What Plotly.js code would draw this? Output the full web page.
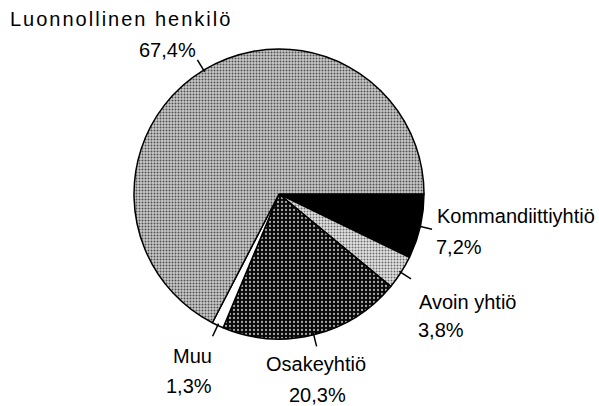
<!DOCTYPE html>
<html><head><meta charset="utf-8">
<script src="https://cdn.plot.ly/plotly-3.0.1.min.js"></script>
<style>html,body{margin:0;padding:0;background:#fff}</style>
</head><body><div id="chart" style="width:599px;height:406px"></div>
<script>
// Data (clockwise from 3 o'clock)
const categories = ['Kommandiittiyhtiö', 'Avoin yhtiö', 'Osakeyhtiö', 'Muu', 'Luonnollinen henkilö'];
const shares = [7.2, 3.8, 20.3, 1.3, 67.4];
const pctLabels = shares.map(v => v.toFixed(1).replace('.', ',') + '%');

// Layout constants (pixels)
const W = 599, H = 406;
const CX = 279, CY = 194, R = 145;
const labelPos = [
  {nx: 436, ny: 215.5, px: 435, py: 247},
  {nx: 418, ny: 302, px: 417, py: 330},
  {nx: 265, ny: 363.5, px: 288, py: 395},
  {nx: 172, ny: 356, px: 165, py: 385.5},
  {nx: 9, ny: 19, px: 138, py: 50}
];
const nameStyle = ['', '', '', '', 'letter-spacing:2px'];

const fillBg = ['#000000', '#e4e4e4', '#080808', '#ffffff', '#cacaca'];
const fillFg = ['#000000', '#6a6a6a', '#a8a8a8', '#ffffff', '#505050'];
const patShape = ['', '.', '.', '', '.'];
const patSize = [3, 3, 4, 3, 3];
const patSolid = [0.3, 0.35, 0.25, 0.3, 0.35];

const fx = x => x / W, fy = y => 1 - y / H;

const total = shares.reduce((a, b) => a + b, 0);
const shapes = [];
let cum = 0;
shares.forEach(v => {
  const mid = (cum + v / 2) / total;
  cum += v;
  const th = 2 * Math.PI * mid;
  const c = Math.cos(th), s = Math.sin(th);
  shapes.push({
    type: 'line', xref: 'paper', yref: 'paper',
    x0: fx(CX + (R - 2) * c), y0: fy(CY + (R - 2) * s),
    x1: fx(CX + (R + 12) * c), y1: fy(CY + (R + 12) * s),
    line: {color: '#000', width: 1.5}
  });
});

const font = {family: '"Liberation Sans", Arial, sans-serif', size: 20, color: '#000'};
const annotations = [];
categories.forEach((name, i) => {
  const p = labelPos[i];
  const txt = nameStyle[i] ? '<span style="' + nameStyle[i] + '">' + name + '</span>' : name;
  annotations.push({xref: 'paper', yref: 'paper', x: fx(p.nx), y: fy(p.ny), text: txt,
    showarrow: false, xanchor: 'left', yanchor: 'middle', borderpad: 0, font: font});
  annotations.push({xref: 'paper', yref: 'paper', x: fx(p.px), y: fy(p.py), text: pctLabels[i],
    showarrow: false, xanchor: 'left', yanchor: 'middle', borderpad: 0, font: font});
});

const trace = {
  type: 'pie',
  labels: categories,
  values: shares,
  sort: false,
  direction: 'clockwise',
  rotation: 90,
  textinfo: 'none',
  hoverinfo: 'label+percent',
  domain: {x: [fx(CX - R), fx(CX + R)], y: [fy(CY + R), fy(CY - R)]},
  marker: {
    colors: fillBg,
    line: {color: '#000', width: 1.5},
    pattern: {shape: patShape, bgcolor: fillBg, fgcolor: fillFg, size: patSize, solidity: patSolid, fillmode: 'replace'}
  }
};

Plotly.newPlot('chart', [trace], {
  width: W, height: H,
  margin: {l: 0, r: 0, t: 0, b: 0},
  paper_bgcolor: '#fff',
  showlegend: false,
  shapes: shapes,
  annotations: annotations
}, {staticPlot: true});
</script></body></html>
